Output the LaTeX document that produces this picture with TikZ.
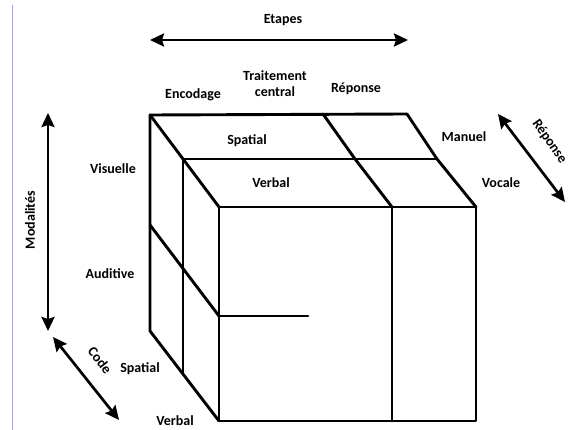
\documentclass[tikz,border=0pt]{standalone}
\usepackage{fontspec}
\setmainfont{Carlito}
\usetikzlibrary{arrows.meta}
\begin{document}
\begin{tikzpicture}[x=1pt,y=-1pt,
  edge/.style={line width=2.9pt,line cap=round,line join=round},
  axis/.style={line width=2.7pt,{Stealth[length=14pt,width=13pt,inset=2pt]}-{Stealth[length=14pt,width=13pt,inset=2pt]}},
  lab/.style={font=\fontsize{14}{15}\selectfont\bfseries,inner sep=0pt,align=center}]
\useasboundingbox (0,0) rectangle (568,430);
\fill[white] (0,0) rectangle (568,430);
% thin frame line on the left
\coordinate (fa) at (12,5);
\coordinate (fb) at (12,430);
\draw[line width=1pt,color=gray!60!blue!50] (fa) -- (fb);
% cube corners
\coordinate (B1) at (150,115);
\coordinate (B2) at (323,114);
\coordinate (B3) at (407,114);
\coordinate (M1) at (183,159);
\coordinate (M2) at (355,159);
\coordinate (M3) at (437,159);
\coordinate (F1) at (219,207);
\coordinate (F2) at (392,207);
\coordinate (F3) at (476,207);
\coordinate (G1) at (219,421);
\coordinate (G2) at (392,421);
\coordinate (G3) at (476,421);
\coordinate (BL) at (150,331);
\coordinate (ML) at (183,374);
\coordinate (LA) at (150,225);
\coordinate (LB) at (219,316);
\coordinate (LC) at (308,316);
% top face
\draw[edge] (B1) -- (B3);
\draw[edge] (M1) -- (M3);
\draw[edge] (F1) -- (F3);
\draw[edge] (B1) -- (M1) -- (F1);
\draw[edge] (B2) -- (M2) -- (F2);
\draw[edge] (B3) -- (M3) -- (F3);
% front face
\draw[edge] (F1) -- (G1) -- (G3) -- (F3);
\draw[edge] (F2) -- (G2);
\draw[edge] (LB) -- (LC);
% left face
\draw[edge] (B1) -- (BL) -- (G1);
\draw[edge] (M1) -- (ML);
\draw[edge] (LA) -- (LB);
% axes
\coordinate (e1) at (150,40);
\coordinate (e2) at (408,40);
\draw[axis] (e1) -- (e2);
\coordinate (m1) at (48,113);
\coordinate (m2) at (48,331);
\draw[axis] (m1) -- (m2);
\coordinate (c1) at (53,337);
\coordinate (c2) at (119,420);
\draw[axis] (c1) -- (c2);
\coordinate (r1) at (498,114);
\coordinate (r2) at (565,202);
\draw[axis] (r1) -- (r2);
% labels
\node[lab] (etapes) at (283,20) {Etapes};
\node[lab] (enc) at (193,95) {Encodage};
\node[lab] (trait) at (275,84) {Traitement\\[1pt]central};
\node[lab] (rep) at (356,89) {Réponse};
\node[lab] (spt) at (247,141) {Spatial};
\node[lab] (man) at (464,137) {Manuel};
\node[lab] (vbt) at (271,183) {Verbal};
\node[lab] (voc) at (501,183) {Vocale};
\node[lab,rotate=-55,anchor=west] (repax) at (535,121) {Réponse};
\node[lab] (vis) at (113,169) {Visuelle};
\node[lab] (aud) at (110,274) {Auditive};
\node[lab,rotate=90] (mod) at (30,220) {Modalités};
\node[lab,rotate=-52] (code) at (100,360) {Code};
\node[lab] (spl) at (140,369) {Spatial};
\node[lab] (vbl) at (175,421) {Verbal};
\end{tikzpicture}
\end{document}
